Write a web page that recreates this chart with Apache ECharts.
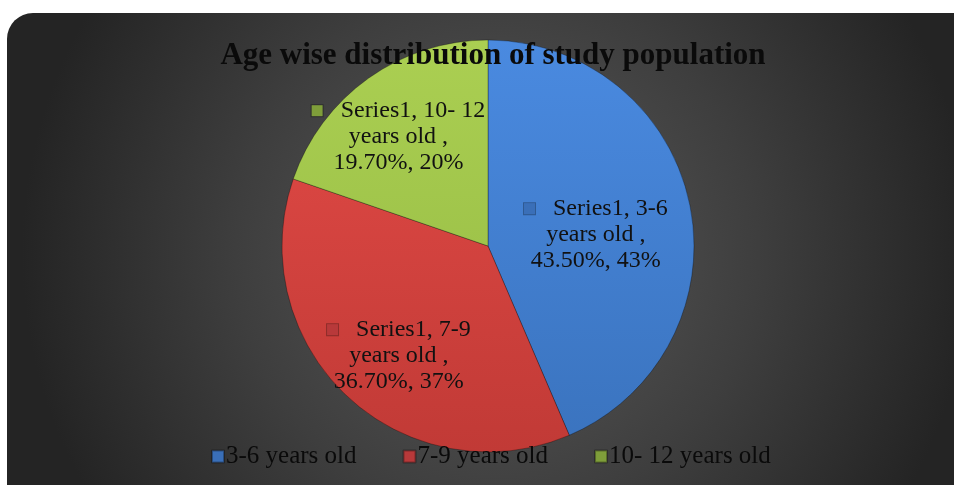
<!DOCTYPE html>
<html><head><meta charset="utf-8">
<script src="https://cdn.jsdelivr.net/npm/echarts@6/dist/echarts.min.js"></script>
<style>html,body{margin:0;padding:0;background:#fff;}#c{width:954px;height:485px;}</style>
</head><body><div id="c"></div>
<script>
const categories = ['3-6 years old', '7-9 years old', '10- 12 years old'];
const labelCategories = ['3-6\nyears old ,', '7-9\nyears old ,', '10- 12\nyears old ,'];
const values = [43.5, 36.7, 19.7];
const roundedPct = [43, 37, 20];
const seriesName = 'Series1';
const colorsTop = ['#4a8ae0', '#e44b47', '#abcf52'];
const colorsBottom = ['#3a73be', '#c13a36', '#93b942'];
const colorsKey = ['#3a6fb8', '#b8393a', '#7f9e3a'];
const labelOffsets = [[4, 10], [-17, 32], [-28, -23]];

const chart = echarts.init(document.getElementById('c'));
const font = '"Liberation Serif", "DejaVu Serif", serif';

const data = categories.map((c, i) => ({
  name: c,
  value: values[i],
  itemStyle: {
    color: {
      type: 'linear', global: true, x: 0, y: 40, x2: 0, y2: 452,
      colorStops: [{offset: 0, color: colorsTop[i]}, {offset: 1, color: colorsBottom[i]}]
    }
  },
  label: {
    offset: labelOffsets[i],
    formatter: '{sq' + i + '|}   ' + seriesName + ', ' + labelCategories[i] + '\n' + values[i].toFixed(2) + '%, ' + roundedPct[i] + '%'
  }
}));

const rich = {};
colorsKey.forEach((c, i) => {
  rich['sq' + i] = {width: 11, height: 11, backgroundColor: c, borderColor: 'rgba(0,0,0,0.3)', borderWidth: 1};
});

chart.setOption({
  animation: false,
  graphic: [{
    type: 'rect', z: -10, silent: true,
    shape: {x: 7, y: 13, width: 980, height: 500, r: 26},
    style: {
      fill: {type: 'radial', x: 0.5, y: 0.48, r: 0.95,
        colorStops: [{offset: 0, color: '#5a5a5a'}, {offset: 0.55, color: '#3e3e3e'}, {offset: 1, color: '#242424'}]}
    }
  }],
  title: {
    text: 'Age wise distribution of study population',
    left: 488, top: 35, textAlign: 'center',
    textStyle: {fontFamily: font, fontWeight: 'bold', fontSize: 31, color: '#0a0a0a'}
  },
  legend: {
    bottom: 11, left: 206,
    itemWidth: 12, itemHeight: 12, itemGap: 46, icon: 'rect',
    textStyle: {fontFamily: font, fontSize: 25, color: '#0a0a0a', padding: [0, 0, 0, -3]},
    data: categories.map((c, i) => ({name: c, itemStyle: {color: colorsKey[i]}}))
  },
  series: [{
    type: 'pie',
    name: seriesName,
    center: [488, 246],
    radius: 206,
    startAngle: 90,
    clockwise: true,
    data: data,
    itemStyle: {borderColor: 'rgba(0,0,0,0.3)', borderWidth: 1},
    label: {
      show: true, position: 'inside',
      fontFamily: font, fontSize: 24, lineHeight: 26, color: '#111',
      align: 'center',
      rich: rich
    },
    labelLine: {show: false},
    emphasis: {disabled: true}
  }]
});
</script></body></html>
